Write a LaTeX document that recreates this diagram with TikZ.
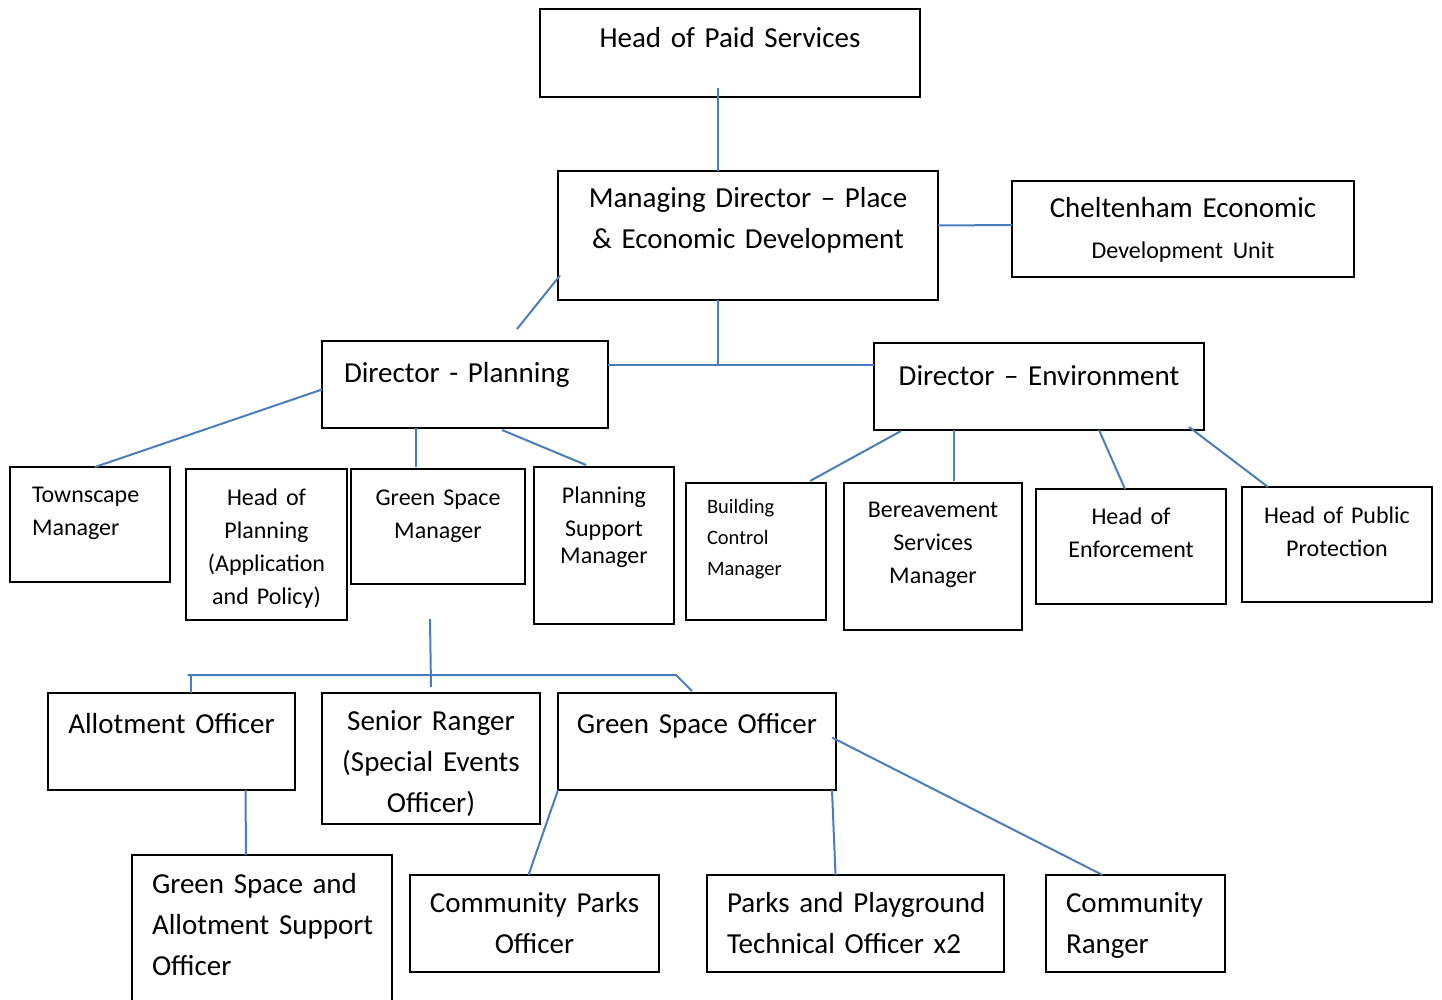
\documentclass[tikz,border=0pt]{standalone}
\usepackage{fontspec}
\setmainfont[WordSpace=0.85]{Carlito}
\definecolor{linkblue}{RGB}{74,126,187}
\newcommand\postbig{\fontsize{29}{41}\selectfont}
\newcommand\postsmall{\fontsize{24}{33}\selectfont}
\newcommand\posttiny{\fontsize{20.5}{31}\selectfont}
\hyphenpenalty=10000

\begin{document}
\begin{tikzpicture}[x=1pt, y=-1pt]

\tikzset{
  post/.style={
    draw,
    line width=1.8pt,
    anchor=north west,
    inner ysep=0pt,
    outer sep=0pt,
    font=\postbig,
  },
  link/.style={
    draw=linkblue,
    line width=2pt,
  }
}

\useasboundingbox (0,0) rectangle (1442,1000);
\clip (0,0) rectangle (1442,1000);

% Level 0
\node[post, align=center, text width=364pt, inner xsep=8pt, text height=39pt, text depth=49pt]
  (head) at (540,9) {Head of Paid Services};

% Level 1
\node[post, align=center, text width=364pt, inner xsep=8pt, text height=37pt, text depth=92pt]
  (md) at (558,171) {Managing Director – Place\\ \& Economic Development};
\node[post, align=center, text width=326pt, inner xsep=8pt, text height=37pt, text depth=59pt]
  (ceu) at (1012,181) {Cheltenham Economic\\ \fontsize{24}{38}\selectfont Development Unit};

% Level 2 (the two directors)
\node[post, align=left, text width=242pt, inner xsep=22pt, text height=41pt, text depth=46pt]
  (dp) at (322,341) {Director - Planning};
\node[post, align=center, text width=314pt, inner xsep=8pt, text height=42pt, text depth=45pt]
  (de) at (874,343) {Director – Environment};

% Level 3 (managers, smaller type)
\node[post, font=\postsmall, align=left, text width=116pt, inner xsep=22pt, text height=35pt, text depth=80pt]
  (town) at (10,467) {Townscape\\ Manager};
\node[post, font=\postsmall, align=center, text width=153pt, inner xsep=4pt, text height=36pt, text depth=115pt]
  (hop) at (186,469) {Head of\\ Planning\\ (Application\\ and Policy)};
\node[post, font=\postsmall, align=center, text width=166pt, inner xsep=4pt, text height=36pt, text depth=79pt]
  (gsm) at (351,469) {Green Space\\ Manager};
\node[post, font=\postsmall, align=center, text width=132pt, inner xsep=4pt, text height=36pt, text depth=121pt]
  (psm) at (534,467) {Planning\\ Support\\[-6pt] Manager};
\node[post, font=\posttiny, align=left, text width=98pt, inner xsep=21pt, text height=30pt, text depth=107pt]
  (bcm) at (686,483) {Building\\ Control\\ Manager};
\node[post, font=\postsmall, align=center, text width=170pt, inner xsep=4pt, text height=34pt, text depth=113pt]
  (bsm) at (844,483) {Bereavement\\ Services\\ Manager};
\node[post, font=\postsmall, align=center, text width=182pt, inner xsep=4pt, text height=35pt, text depth=80pt]
  (hoe) at (1036,489) {Head of\\ Enforcement};
\node[post, font=\postsmall, align=center, text width=182pt, inner xsep=4pt, text height=36pt, text depth=79pt]
  (hpp) at (1242,487) {Head of Public\\ Protection};

% Level 4 (under green space manager)
\node[post, align=center, text width=239pt, inner xsep=4pt, text height=40pt, text depth=57pt]
  (ao) at (48,693) {Allotment Officer};
\node[post, align=center, text width=210pt, inner xsep=4pt, text height=37pt, text depth=94pt]
  (sr) at (322,693) {Senior Ranger\\ (Special Events\\ Officer)};
\node[post, align=center, text width=270pt, inner xsep=4pt, text height=40pt, text depth=57pt]
  (gso) at (558,693) {Green Space Officer};

% Level 5
\node[post, align=left, text width=220pt, inner xsep=20pt, text height=38pt, text depth=117pt]
  (gsaso) at (132,855) {Green Space and\\ Allotment~Support\\ Officer};
\node[post, align=center, text width=241pt, inner xsep=4pt, text height=37pt, text depth=60pt]
  (cpo) at (410,875) {Community Parks\\ Officer};
\node[post, align=left, text width=257pt, inner xsep=20pt, text height=37pt, text depth=60pt]
  (ppto) at (707,875) {Parks~and~Playground\\ Technical~Officer~x2};
\node[post, align=left, text width=139pt, inner xsep=20pt, text height=37pt, text depth=60pt]
  (cr) at (1046,875) {Community\\ Ranger};

% Edges
\draw[link] ([xshift=-12pt, yshift=9pt]head.south) -- ([xshift=-30pt]md.north);
\draw[link] ([yshift=10pt]md.east) -- ([yshift=4pt]ceu.west);
\draw[link] ([xshift=2pt, yshift=-40pt]md.west) -- ([xshift=52pt, yshift=12pt]dp.north);
\draw[link] ([xshift=-30pt]md.south) |- ([yshift=20pt]dp.east);
\draw[link] ([xshift=-30pt]md.south) |- ([yshift=22pt]de.west);

\draw[link] ([yshift=-5pt]dp.west) -- ([xshift=5pt]town.north);
\draw[link] ([xshift=-49pt]dp.south) -- ([xshift=-22pt, yshift=2pt]gsm.north);
\draw[link] ([xshift=37pt, yshift=-2pt]dp.south) -- ([xshift=-18pt, yshift=2pt]psm.north);

\draw[link] ([xshift=-138pt, yshift=-1pt]de.south) -- ([xshift=54pt, yshift=2pt]bcm.north);
\draw[link] ([xshift=-85pt]de.south) -- ([xshift=21pt, yshift=2pt]bsm.north);
\draw[link] ([xshift=60pt]de.south) -- ([xshift=-6pt]hoe.north);
\draw[link] ([xshift=150pt, yshift=3pt]de.south) -- ([xshift=-69pt]hpp.north);

\draw[link] ([xshift=-8pt, yshift=-35pt]gsm.south) -- ([yshift=6pt]sr.north);
\draw[link] ([xshift=16pt, yshift=18pt]ao.north) -- ([xshift=-21pt, yshift=18pt]gso.north)
  -- ([xshift=-5pt, yshift=2pt]gso.north);
\draw[link] ([xshift=19pt, yshift=18pt]ao.north) -- ([xshift=19pt]ao.north);

\draw[link] ([xshift=74pt]ao.south) -- ([xshift=-16pt]gsaso.north);
\draw[link] (gso.south west) -- ([xshift=-6pt]cpo.north);
\draw[link] ([xshift=-4pt]gso.south east) -- ([xshift=-20pt]ppto.north);
\draw[link] ([xshift=-4pt, yshift=4pt]gso.east) -- ([xshift=-33pt]cr.north);

\end{tikzpicture}
\end{document}
